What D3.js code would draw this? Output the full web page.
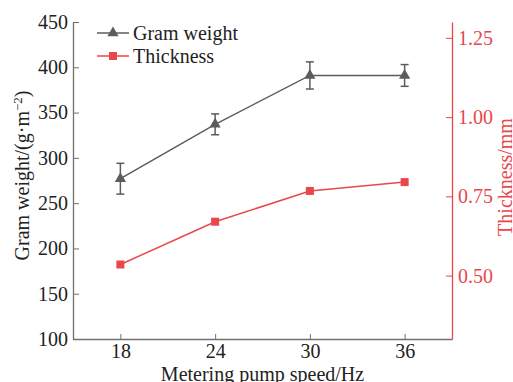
<!DOCTYPE html>
<html>
<head>
<meta charset="utf-8">
<script src="https://cdn.jsdelivr.net/npm/d3@7"></script>
<style>
  body { margin: 0; background: #fff; }
  svg, svg text { font-family: "Liberation Serif", "Times New Roman", serif; }
  svg { display: block; }
</style>
</head>
<body>
<div id="chart"></div>
<script>
const speeds = [18, 24, 30, 36];
const gramWeight = [277, 337, 391, 391];
const gramError = [17, 11.5, 15, 12];
const thickness = [0.535, 0.67, 0.767, 0.795];
const xTicks = [18, 24, 30, 36];
const leftTicks = [100, 150, 200, 250, 300, 350, 400, 450];
const rightTicks = [0.5, 0.75, 1.0, 1.25];

const width = 513, height = 382;
const margin = { top: 22, right: 61, bottom: 43, left: 73 };
const innerW = width - margin.left - margin.right;
const innerH = height - margin.top - margin.bottom;

const gray = "#5c5c5c";
const axisGray = "#707070";
const red = "#e8474c";
const fs = "20px";

const svg = d3.select("#chart").append("svg")
  .attr("width", width).attr("height", height);
const g = svg.append("g").attr("transform", `translate(${margin.left},${margin.top})`);

const x = d3.scaleLinear().domain([15, 39]).range([0, innerW]);
const yL = d3.scaleLinear().domain([100, 450]).range([innerH, 0]);
const yR = d3.scaleLinear().domain([0.3, 1.3]).range([innerH, 0]);

function styleAxis(sel, color, textColor) {
  sel.attr("font-family", null).attr("font-size", null);
  sel.selectAll(".domain").attr("stroke", color).attr("stroke-width", 1.3);
  sel.selectAll(".tick line").attr("stroke", color).attr("stroke-width", 1);
  sel.selectAll(".tick text").attr("fill", textColor).style("font-size", fs);
}

// bottom axis, ticks inward
const xAxisG = g.append("g").attr("transform", `translate(0,${innerH})`)
  .call(d3.axisBottom(x).tickValues(xTicks).tickSize(-5).tickSizeOuter(0).tickPadding(5));
styleAxis(xAxisG, axisGray, "#222");

const yAxisG = g.append("g")
  .call(d3.axisLeft(yL).tickValues(leftTicks).tickSize(-6).tickSizeOuter(0).tickPadding(5));
styleAxis(yAxisG, axisGray, "#222");

const yRAxisG = g.append("g").attr("transform", `translate(${innerW},0)`)
  .call(d3.axisRight(yR).tickValues(rightTicks).tickFormat(d3.format(".2f"))
    .tickSize(-6).tickSizeOuter(0).tickPadding(6));
styleAxis(yRAxisG, red, red);

// axis titles
svg.append("text")
  .attr("x", margin.left + x(27)).attr("y", 381)
  .attr("text-anchor", "middle").attr("fill", "#222")
  .style("font-size", fs).text("Metering pump speed/Hz");

const lt = svg.append("text")
  .attr("transform", `translate(29,${margin.top + innerH / 2 - 5}) rotate(-90)`)
  .attr("text-anchor", "middle").attr("fill", "#222").style("font-size", fs);
lt.append("tspan").text("Gram weight/(g·m");
lt.append("tspan").attr("dy", -7).style("font-size", "13px").text("−2");
lt.append("tspan").attr("dy", 7).text(")");

svg.append("text")
  .attr("transform", `translate(512,177) rotate(-90)`)
  .attr("text-anchor", "middle").attr("fill", red).style("font-size", fs)
  .text("Thickness/mm");

// series
const gw = speeds.map((s, i) => ({ x: s, y: gramWeight[i], e: gramError[i] }));
const th = speeds.map((s, i) => ({ x: s, y: thickness[i] }));

g.append("path").datum(th)
  .attr("fill", "none").attr("stroke", red).attr("stroke-width", 1.5)
  .attr("d", d3.line().x(d => x(d.x)).y(d => yR(d.y)));
g.selectAll(".sq").data(th).join("rect")
  .attr("x", d => x(d.x) - 4).attr("y", d => yR(d.y) - 4)
  .attr("width", 8).attr("height", 8).attr("fill", red);

g.append("path").datum(gw)
  .attr("fill", "none").attr("stroke", gray).attr("stroke-width", 1.5)
  .attr("d", d3.line().x(d => x(d.x)).y(d => yL(d.y)));

const eb = g.selectAll(".eb").data(gw).join("g").attr("stroke", gray).attr("stroke-width", 1.5);
eb.append("line")
  .attr("x1", d => x(d.x)).attr("x2", d => x(d.x))
  .attr("y1", d => yL(d.y + d.e)).attr("y2", d => yL(d.y - d.e));
eb.append("line")
  .attr("x1", d => x(d.x) - 4).attr("x2", d => x(d.x) + 4)
  .attr("y1", d => yL(d.y + d.e)).attr("y2", d => yL(d.y + d.e));
eb.append("line")
  .attr("x1", d => x(d.x) - 4).attr("x2", d => x(d.x) + 4)
  .attr("y1", d => yL(d.y - d.e)).attr("y2", d => yL(d.y - d.e));

const tri = d3.symbol().type(d3.symbolTriangle).size(55);
g.selectAll(".tri").data(gw).join("path")
  .attr("transform", d => `translate(${x(d.x)},${yL(d.y)})`)
  .attr("d", tri).attr("fill", gray);

// legend
const legend = svg.append("g");
const items = [
  { label: "Gram weight", color: gray, marker: "tri" },
  { label: "Thickness", color: red, marker: "sq" }
];
items.forEach((it, i) => {
  const ly = 33 + i * 23;
  const row = legend.append("g");
  row.append("line").attr("x1", 97).attr("x2", 129).attr("y1", ly).attr("y2", ly)
    .attr("stroke", it.color).attr("stroke-width", 1.5);
  if (it.marker === "tri") {
    row.append("path").attr("transform", `translate(113,${ly})`).attr("d", tri).attr("fill", it.color);
  } else {
    row.append("rect").attr("x", 109).attr("y", ly - 4).attr("width", 8).attr("height", 8).attr("fill", it.color);
  }
  row.append("text").attr("x", 133).attr("y", ly).attr("dy", "0.35em")
    .attr("fill", "#222").style("font-size", fs).text(it.label);
});
</script>
</body>
</html>
